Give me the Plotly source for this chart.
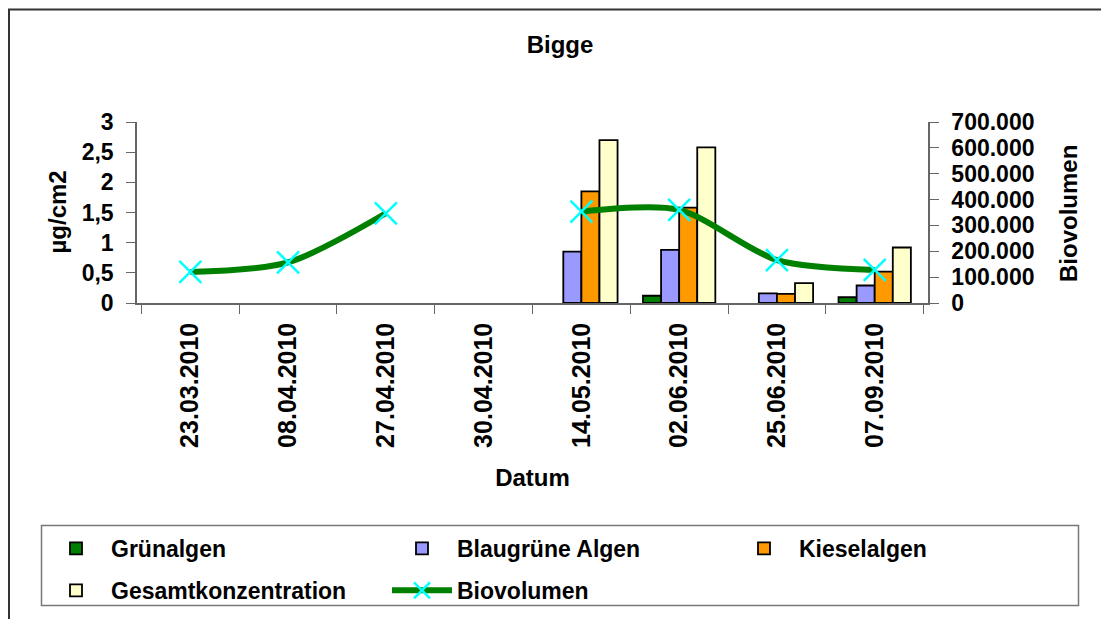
import plotly.graph_objects as go

dates = ["23.03.2010", "08.04.2010", "27.04.2010", "30.04.2010",
         "14.05.2010", "02.06.2010", "25.06.2010", "07.09.2010"]
gruenalgen = [None, None, None, None, None, 0.12, None, 0.095]
blaugruene = [None, None, None, None, 0.85, 0.88, 0.16, 0.29]
kieselalgen = [None, None, None, None, 1.85, 1.58, 0.15, 0.52]
gesamt = [None, None, None, None, 2.70, 2.58, 0.33, 0.92]
biovolumen = [120000, 157000, 347000, None, 353000, 360000, 166000, 128000]

FONT = "Arial, Liberation Sans, sans-serif"
W, H = 1101, 619
L, R, T, B = 137, 928, 122, 303
AX = "#666"

def f(size):
    return dict(family=FONT, size=size, color="black", weight="bold")

def px(x):
    return (x - L) / (R - L)

def py(y):
    return (B - y) / (B - T)

fig = go.Figure()
bar_line = dict(color="black", width=1.8)
fig.add_trace(go.Bar(name="Grünalgen", x=dates, y=gruenalgen, legend="legend",
                     legendgroup="g1", marker=dict(color="#008000", line=bar_line)))
fig.add_trace(go.Bar(name="Blaugrüne Algen", x=dates, y=blaugruene, legend="legend2",
                     legendgroup="g2", marker=dict(color="#9999FF", line=bar_line)))
fig.add_trace(go.Bar(name="Kieselalgen", x=dates, y=kieselalgen, legend="legend3",
                     legendgroup="g3", marker=dict(color="#FF9900", line=bar_line)))
fig.add_trace(go.Bar(name="Gesamtkonzentration", x=dates, y=gesamt, legend="legend",
                     legendgroup="g4", marker=dict(color="#FFFFCC", line=bar_line)))
fig.add_trace(go.Scatter(name="Biovolumen", x=dates, y=biovolumen, yaxis="y2",
                         legend="legend2", legendgroup="g5",
                         mode="lines+markers", connectgaps=False,
                         line=dict(color="#008000", width=6, shape="spline", smoothing=0.8),
                         marker=dict(symbol="x-thin", size=22, color="#00FFFF",
                                     line=dict(color="#00FFFF", width=2.5))))

legend_top = 527
def leg(text_x):
    return dict(orientation="v", xref="container", yref="container",
                x=(text_x - 72) / W, xanchor="left", y=1 - legend_top / H, yanchor="top",
                itemwidth=60, bgcolor="rgba(0,0,0,0)", borderwidth=0,
                tracegroupgap=9, font=f(23))

fig.update_layout(
    width=W, height=H,
    margin=dict(l=L, r=W - R, t=T, b=H - B, autoexpand=False),
    paper_bgcolor="white", plot_bgcolor="white",
    separators=",.",
    font=f(22),
    barmode="group", bargap=0.26, bargroupgap=0,
    title=dict(text="Bigge", font=f(24), x=560 / W, xref="container",
               xanchor="center", y=1 - 45 / H, yref="container", yanchor="middle"),
    xaxis=dict(type="category", showline=True, linecolor=AX, linewidth=1.5,
               ticks="outside", ticklen=9, tickcolor=AX, tickson="boundaries",
               tickangle=-90, tickfont=f(25), ticklabelstandoff=8, automargin=False,
               title=dict(text="Datum", font=f(24), standoff=22),
               showgrid=False, zeroline=False),
    xaxis2=dict(overlaying="x", range=[0, 8], dtick=1, tick0=0, ticks="inside",
                ticklen=6, tickcolor=AX, showticklabels=False, showline=False,
                showgrid=False, zeroline=False, side="bottom", anchor="y",
                automargin=False),
    yaxis=dict(range=[0, 3], dtick=0.5, showline=True, linecolor=AX, linewidth=1.5,
               ticks="outside", ticklen=9, tickcolor=AX, tickfont=f(23),
               ticklabelstandoff=8, automargin=False,
               showgrid=False, zeroline=False),
    yaxis3=dict(overlaying="y", range=[0, 3], dtick=0.5, ticks="inside", ticklen=9,
                tickcolor=AX, showticklabels=False, showline=False, showgrid=False,
                zeroline=False, side="left", anchor="x", automargin=False),
    yaxis2=dict(range=[0, 700000], dtick=100000, tickformat=",d", overlaying="y",
                side="right", showline=True, linecolor=AX, linewidth=1.5,
                ticks="outside", ticklen=9, tickcolor=AX, tickfont=f(23),
                ticklabelstandoff=8, automargin=False,
                showgrid=False, zeroline=False),
    yaxis4=dict(overlaying="y", range=[0, 700000], dtick=100000, ticks="inside",
                ticklen=9, tickcolor=AX, showticklabels=False, showline=False,
                showgrid=False, zeroline=False, side="right", anchor="x",
                automargin=False),
    legend=leg(113),
    legend2=leg(459),
    legend3=leg(801),
    showlegend=True,
    annotations=[
        dict(text="µg/cm2", xref="paper", yref="paper", x=px(57), y=py(212.5),
             xanchor="center", yanchor="middle", textangle=-90, showarrow=False,
             font=f(24)),
        dict(text="Biovolumen", xref="paper", yref="paper", x=px(1068), y=py(214),
             xanchor="center", yanchor="middle", textangle=-90, showarrow=False,
             font=f(24)),
    ],
    shapes=[
        dict(type="rect", xref="paper", yref="paper",
             x0=px(9), x1=px(1120), y0=py(640), y1=py(9.5),
             line=dict(color="#333", width=2), fillcolor="rgba(0,0,0,0)", layer="below"),
        dict(type="rect", xref="paper", yref="paper",
             x0=px(41.5), x1=px(1078.5), y0=py(605.5), y1=py(525.5),
             line=dict(color="#777", width=1.5), fillcolor="rgba(0,0,0,0)", layer="below"),
    ],
)

fig.write_html("out.html")
